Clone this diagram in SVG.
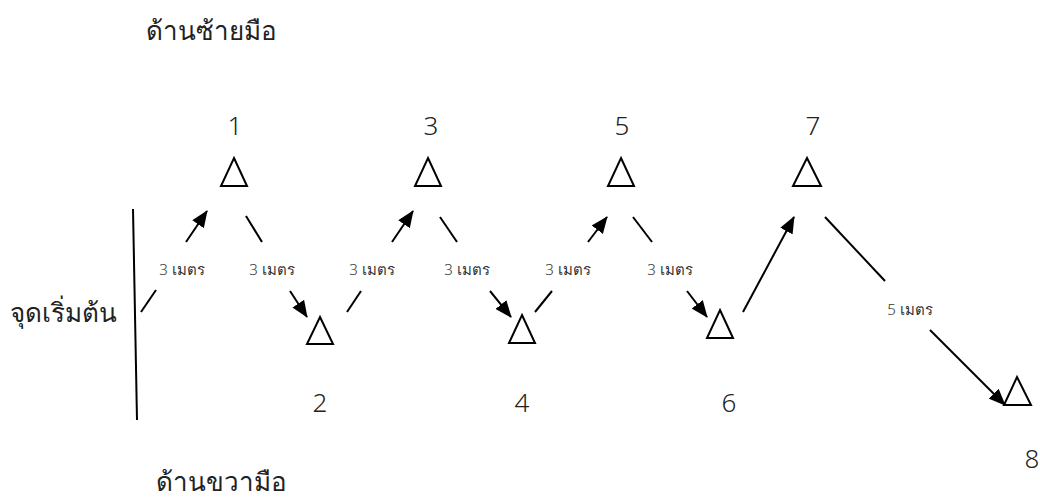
<svg xmlns="http://www.w3.org/2000/svg" width="1040" height="499" viewBox="0 0 1040 499">
  <style>
    .tri { fill: #ffffff; stroke: #000000; stroke-width: 2; stroke-linejoin: miter; }
    .num { font-family: "Noto Sans", "DejaVu Sans", sans-serif; font-size: 26px; font-weight: 300; fill: #222222; text-anchor: middle; }
    .side { font-family: "Noto Sans", "DejaVu Sans", sans-serif; font-size: 26px; font-weight: 300; fill: #222222; }
    .dist { font-family: "Noto Sans", "DejaVu Sans", sans-serif; font-size: 15px; font-weight: 300; fill: #333333; text-anchor: middle; }
    .seg { stroke: #000000; stroke-width: 2; fill: none; }
    .arr { stroke: #000000; stroke-width: 2; fill: none; marker-end: url(#head); }
  </style>
  <defs>
    <marker id="head" markerUnits="userSpaceOnUse" markerWidth="18" markerHeight="14" refX="16" refY="7" orient="auto">
      <path d="M0,0 L17,7 L0,14 Z" fill="#000000"/>
    </marker>
  </defs>
  <rect width="1040" height="499" fill="#ffffff"/>

  <!-- side captions -->
  <text class="side" x="146" y="40">ด้านซ้ายมือ</text>
  <text class="side" x="156" y="491">ด้านขวามือ</text>

  <!-- start line -->
  <g id="start">
    <line x1="133" y1="209" x2="137" y2="420" stroke="#000" stroke-width="2"/>
    <text class="side" x="10" y="322">จุดเริ่มต้น</text>
  </g>

  <!-- cones -->
  <g id="cone1"><path class="tri" d="M234,158 L247,186 L221,186 Z"/><text class="num" x="235" y="135">1</text></g>
  <g id="cone2"><path class="tri" d="M320,317 L333,344 L307,344 Z"/><text class="num" x="320" y="412">2</text></g>
  <g id="cone3"><path class="tri" d="M428,158 L441,186 L415,186 Z"/><text class="num" x="431" y="135">3</text></g>
  <g id="cone4"><path class="tri" d="M522,315 L535,343 L509,343 Z"/><text class="num" x="522" y="412">4</text></g>
  <g id="cone5"><path class="tri" d="M621,158 L634,186 L608,186 Z"/><text class="num" x="622" y="135">5</text></g>
  <g id="cone6"><path class="tri" d="M720,310 L733,338 L707,338 Z"/><text class="num" x="729" y="412">6</text></g>
  <g id="cone7"><path class="tri" d="M807,158 L821,186 L793,186 Z"/><text class="num" x="813" y="135">7</text></g>
  <g id="cone8"><path class="tri" d="M1017,377 L1031,405 L1004,405 Z"/><text class="num" x="1032" y="468">8</text></g>

  <!-- connectors -->
  <g id="connectors">
    <line class="seg" x1="141" y1="312" x2="156" y2="290"/>
    <line class="arr" x1="186" y1="242" x2="207" y2="211"/>
    <line class="seg" x1="246" y1="216" x2="262" y2="242"/>
    <line class="arr" x1="290" y1="291" x2="307" y2="317"/>
    <line class="seg" x1="347" y1="312" x2="361" y2="291"/>
    <line class="arr" x1="392" y1="242" x2="413" y2="211"/>
    <line class="seg" x1="440" y1="217" x2="457" y2="242"/>
    <line class="arr" x1="490" y1="291" x2="511" y2="317"/>
    <line class="seg" x1="535" y1="312" x2="552" y2="291"/>
    <line class="arr" x1="588" y1="242" x2="607" y2="217"/>
    <line class="seg" x1="633" y1="217" x2="652" y2="242"/>
    <line class="arr" x1="687" y1="291" x2="707" y2="317"/>
    <line class="arr" x1="743" y1="312" x2="794" y2="217"/>
    <line class="seg" x1="825" y1="217" x2="885" y2="281"/>
    <line class="arr" x1="930" y1="330" x2="1005" y2="405"/>

    <text class="dist" x="182" y="275">3 เมตร</text>
    <text class="dist" x="272" y="275">3 เมตร</text>
    <text class="dist" x="372" y="275">3 เมตร</text>
    <text class="dist" x="467" y="275">3 เมตร</text>
    <text class="dist" x="568" y="275">3 เมตร</text>
    <text class="dist" x="670" y="275">3 เมตร</text>
    <text class="dist" x="910" y="315">5 เมตร</text>
  </g>
</svg>
